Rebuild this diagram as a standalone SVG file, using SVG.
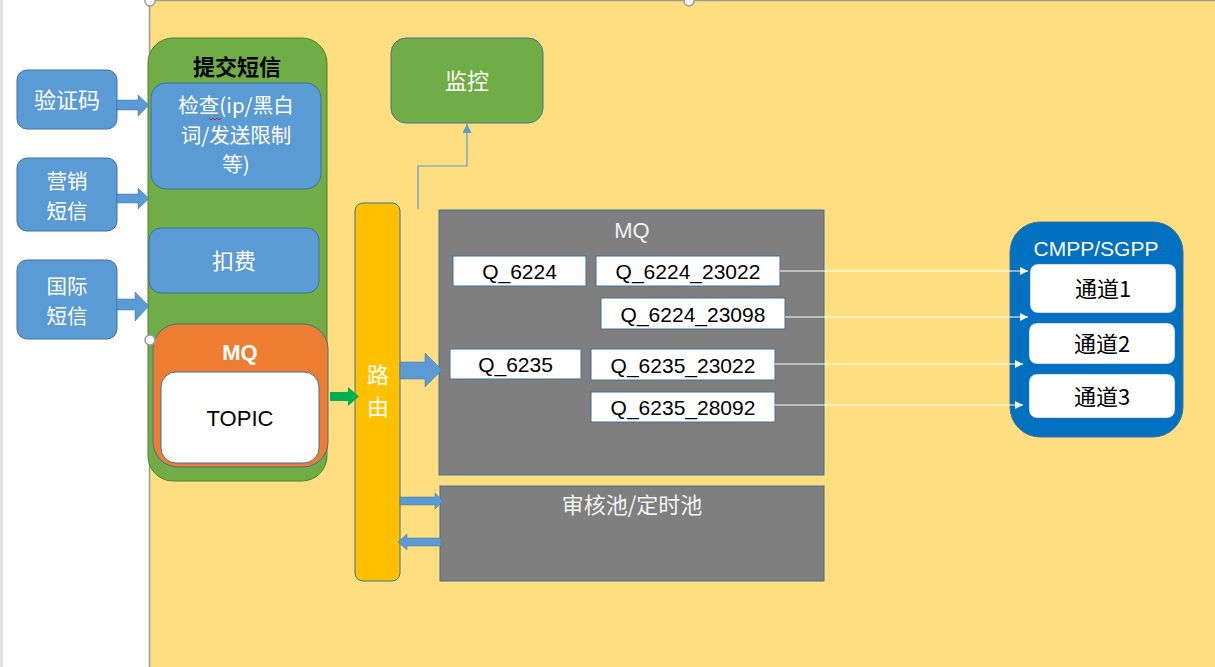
<svg xmlns="http://www.w3.org/2000/svg" width="1215" height="667" viewBox="0 0 1215 667">
<defs>
<style>
.cn{font-family:"Noto Sans CJK SC","Liberation Sans",sans-serif;}
.lat{font-family:"Liberation Sans","Noto Sans CJK SC",sans-serif;}
.w{fill:#ffffff;}
.k{fill:#000000;}
.blue{fill:#5B9BD5;stroke:#41719C;stroke-width:1;}
.green{fill:#70AD47;stroke:#41719C;stroke-width:1;}
.q{fill:#ffffff;stroke:#41719C;stroke-width:1;}
.gray{fill:#7F7F7F;stroke:#41719C;stroke-width:1;}
.ch{fill:#ffffff;stroke:#4472C4;stroke-width:0.5;}
.wl{stroke:#ffffff;stroke-width:1;fill:none;}
</style>
<marker id="wa" viewBox="0 0 10 10" refX="10" refY="5" markerWidth="8" markerHeight="8" markerUnits="userSpaceOnUse" orient="auto"><path d="M0,0 L10,5 L0,10 z" fill="#ffffff"/></marker>
<marker id="ba" viewBox="0 0 10 10" refX="10" refY="5" markerWidth="9" markerHeight="9" markerUnits="userSpaceOnUse" orient="auto"><path d="M0,0 L10,5 L0,10 z" fill="#5B9BD5"/></marker>
</defs>
<rect x="0" y="0" width="1215" height="667" fill="#ffffff"/>
<rect x="0" y="0" width="3" height="667" fill="#E0E0E0"/>
<rect x="150" y="1" width="1065" height="666" fill="#FFDE80"/>
<line x1="149.5" y1="0" x2="149.5" y2="667" stroke="#9A9A9A" stroke-width="1.5"/>
<line x1="150" y1="0.5" x2="1215" y2="0.5" stroke="#9A9A9A" stroke-width="1.5"/>

<g id="n-yzm"><rect x="17" y="70" width="100" height="59" rx="10" class="blue"/><text x="67" y="108" text-anchor="middle" font-size="22" class="cn w">验证码</text></g>
<g id="n-yx"><rect x="17" y="158" width="100" height="73" rx="10" class="blue"/><text x="67" y="189" text-anchor="middle" font-size="20.5" class="cn w">营销<tspan x="67" dy="29.5">短信</tspan></text></g>
<g id="n-gj"><rect x="17" y="260" width="100" height="79" rx="10" class="blue"/><text x="67" y="294" text-anchor="middle" font-size="20.5" class="cn w">国际<tspan x="67" dy="29.5">短信</tspan></text></g>

<g id="n-submit">
<rect x="148" y="38" width="179" height="443" rx="25" fill="#70AD47" stroke="#507E32" stroke-width="1"/>
<text x="237" y="75" text-anchor="middle" font-size="22" font-weight="600" class="cn k">提交短信</text>
</g>
<g id="n-check"><rect x="151" y="83" width="170" height="106" rx="15" class="blue"/>
<text x="236" y="113" text-anchor="middle" font-size="20.5" class="cn w">检查(ip/黑白<tspan x="236" dy="29.5">词/发送限制</tspan><tspan x="236" dy="29.5">等)</tspan></text>
<path d="M209,118 l2,2 l2,-2 l2,2 l2,-2 l2,2 l2,-2" stroke="#E00000" stroke-width="0.8" fill="none"/>
</g>
<g id="n-fee"><rect x="149" y="228" width="170" height="65" rx="12" class="blue"/><text x="234" y="269" text-anchor="middle" font-size="22" class="cn w">扣费</text></g>
<g id="n-mq1"><rect x="153" y="324" width="175" height="143" rx="25" fill="#ED7D31" stroke="#41719C" stroke-width="1"/>
<text x="240" y="360" text-anchor="middle" font-size="22" font-weight="bold" class="lat w">MQ</text>
<rect x="161" y="372" width="158" height="91" rx="15" fill="#ffffff" stroke="#41719C" stroke-width="1"/>
<text x="240" y="426" text-anchor="middle" font-size="22" class="lat k">TOPIC</text></g>

<g id="n-route"><rect x="355" y="203" width="45" height="378" rx="8" fill="#FFC000" stroke="#41719C" stroke-width="1"/>
<text x="378" y="383" text-anchor="middle" font-size="22" class="cn w">路<tspan x="378" dy="32">由</tspan></text></g>

<g id="n-monitor"><rect x="391" y="38" width="152" height="85" rx="15" class="green"/><text x="467" y="89" text-anchor="middle" font-size="22" class="cn w">监控</text></g>

<g id="n-mq2"><rect x="439" y="210" width="385" height="265" class="gray"/>
<text x="632" y="238" text-anchor="middle" font-size="22" class="lat" fill="#F2F2F2">MQ</text></g>
<g id="q1"><rect x="453" y="256" width="133" height="30" class="q"/><text x="519.5" y="279" text-anchor="middle" font-size="21" class="lat k">Q_6224</text></g>
<g id="q2"><rect x="596" y="256" width="184" height="30" class="q"/><text x="688" y="279" text-anchor="middle" font-size="21" class="lat k">Q_6224_23022</text></g>
<g id="q3"><rect x="601" y="298" width="184" height="31" class="q"/><text x="693" y="322" text-anchor="middle" font-size="21" class="lat k">Q_6224_23098</text></g>
<g id="q4"><rect x="450" y="349" width="131" height="30" class="q"/><text x="515.5" y="372" text-anchor="middle" font-size="21" class="lat k">Q_6235</text></g>
<g id="q5"><rect x="591" y="349" width="184" height="31" class="q"/><text x="683" y="373" text-anchor="middle" font-size="21" class="lat k">Q_6235_23022</text></g>
<g id="q6"><rect x="591" y="392" width="184" height="30" class="q"/><text x="683" y="415" text-anchor="middle" font-size="21" class="lat k">Q_6235_28092</text></g>

<g id="n-pool"><rect x="440" y="486" width="384" height="95" class="gray"/>
<text x="632" y="513" text-anchor="middle" font-size="22" class="cn" fill="#F2F2F2">审核池/定时池</text></g>

<g id="n-cmpp"><rect x="1010" y="222" width="173" height="215" rx="30" fill="#0070C0" stroke="#41719C" stroke-width="1"/>
<text x="1096" y="256" text-anchor="middle" font-size="21" class="lat w">CMPP/SGPP</text></g>
<g id="ch1"><rect x="1030" y="264" width="146" height="49" rx="8" class="ch"/><text x="1103" y="297" text-anchor="middle" font-size="22" class="cn k">通道1</text></g>
<g id="ch2"><rect x="1029" y="323" width="146" height="41" rx="8" class="ch"/><text x="1102" y="352" text-anchor="middle" font-size="22" class="cn k">通道2</text></g>
<g id="ch3"><rect x="1029" y="374" width="146" height="44" rx="8" class="ch"/><text x="1102" y="405" text-anchor="middle" font-size="22" class="cn k">通道3</text></g>

<g id="connectors">
<path d="M117,100 H138 V95 L149,105 L138,116 V110 H117 Z" fill="#5B9BD5" stroke="#41719C" stroke-width="0.5"/>
<path d="M117,194 H138 V188 L149,198.5 L138,209 V203 H117 Z" fill="#5B9BD5" stroke="#41719C" stroke-width="0.5"/>
<path d="M117,299 H135 V292 L149,306 L135,321 V310 H117 Z" fill="#5B9BD5" stroke="#41719C" stroke-width="0.5"/>
<path d="M330,392 H348 V387 L359,396.5 L348,406 V401 H330 Z" fill="#00B050"/>
<path d="M400,362 H425 V353 L442,370 L425,387 V379 H400 Z" fill="#5B9BD5" stroke="#41719C" stroke-width="0.5"/>
<path d="M400,497 H435 V493 L443,501 L435,509 V505 H400 Z" fill="#5B9BD5" stroke="#41719C" stroke-width="0.5"/>
<path d="M441,538 H407 V534 L398,542 L407,550 V546 H441 Z" fill="#5B9BD5" stroke="#41719C" stroke-width="0.5"/>
<path d="M418,209 V166 H467 V124" stroke="#5B9BD5" stroke-width="1.2" fill="none" marker-end="url(#ba)"/>
<line x1="780" y1="271" x2="1028" y2="271" class="wl" marker-end="url(#wa)"/>
<line x1="785" y1="317" x2="1028" y2="317" class="wl" marker-end="url(#wa)"/>
<line x1="775" y1="364" x2="1023" y2="364" class="wl" marker-end="url(#wa)"/>
<line x1="775" y1="405" x2="1023" y2="405" class="wl" marker-end="url(#wa)"/>
</g>

<circle cx="150" cy="1" r="5" fill="#ffffff" stroke="#9A9A9A" stroke-width="1.5"/>
<circle cx="689" cy="1" r="5" fill="#ffffff" stroke="#9A9A9A" stroke-width="1.5"/>
<circle cx="150" cy="340" r="5" fill="#ffffff" stroke="#9A9A9A" stroke-width="1.5"/>
</svg>
